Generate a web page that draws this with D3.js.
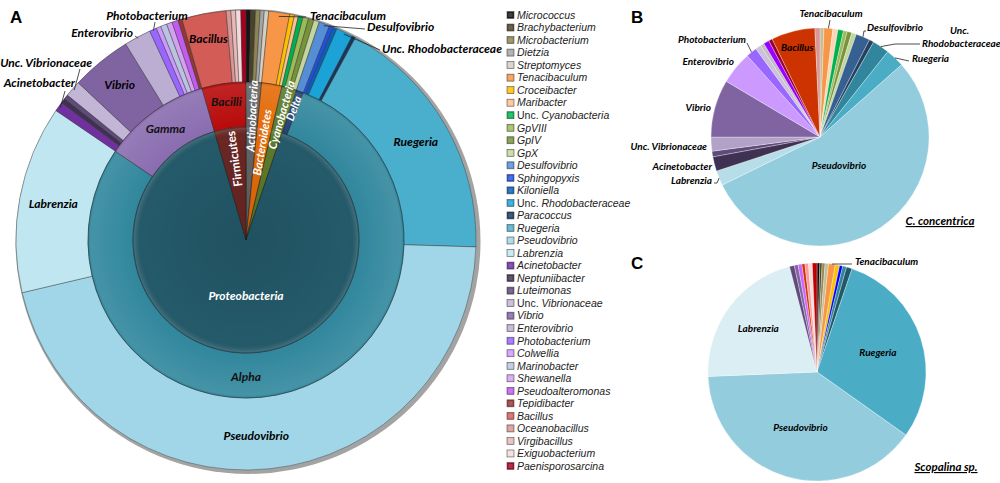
<!DOCTYPE html>
<html>
<head>
<meta charset="utf-8">
<script src="https://cdn.jsdelivr.net/npm/d3@7"></script>
<style>
body { margin: 0; background: #fff; }
svg { font-family: "Lato", "Open Sans", sans-serif; }
.lbl { font-weight: 700; font-style: italic; }
.leg { font-family: "Liberation Sans", Arial, sans-serif; font-size: 10.5px; font-style: italic; fill: #222; }
.panel { font-family: "Liberation Sans", Arial, sans-serif; font-weight: 700; font-size: 17px; }
</style>
</head>
<body>
<svg width="1000" height="483"></svg>
<script>
const width = 1000
const height = 483

// genera, legend order (also clockwise order in the pies)
const genera = ["Micrococcus", "Brachybacterium", "Microbacterium", "Dietzia", "Streptomyces",
    "Tenacibaculum", "Croceibacter", "Maribacter", "Unc. Cyanobacteria", "GpVIII", "GpIV", "GpX",
    "Desulfovibrio", "Sphingopyxis", "Kiloniella", "Unc. Rhodobacteraceae", "Paracoccus", "Ruegeria",
    "Pseudovibrio", "Labrenzia", "Acinetobacter", "Neptuniibacter", "Luteimonas", "Unc. Vibrionaceae",
    "Vibrio", "Enterovibrio", "Photobacterium", "Colwellia", "Marinobacter", "Shewanella",
    "Pseudoalteromonas", "Tepidibacter", "Bacillus", "Oceanobacillus", "Virgibacillus",
    "Exiguobacterium", "Paenisporosarcina"]

// panel A, outer ring (% of reads)
const genusA = [0.33, 0.33, 0.33, 0.28, 0.31, 1.47, 0.33, 0.28, 0.33, 0.39, 0.39, 0.39,
    0.75, 0.28, 0.28, 1.17, 0.25, 17.58, 45.83, 13.19, 0.67, 0.33, 0.33, 1.14,
    4.25, 1.89, 0.50, 0.33, 0.44, 0.39, 0.44, 0.28, 3.11, 0.33, 0.33, 0.36, 0.36]

// panel A, middle ring (class)
const classNames = ["Actinobacteria", "Bacteroidetes", "Cyanobacteria", "Delta", "Alpha", "Gamma", "Bacilli"]
const classA = [1.58, 2.08, 1.50, 0.75, 78.58, 11.00, 4.50]

// panel A, inner pie (phylum)
const phyla = ["Actinobacteria", "Bacteroidetes", "Cyanobacteria", "Proteobacteria", "Firmicutes"]
const phylumA = [1.58, 2.08, 1.50, 90.33, 4.50]

// panel B, C. concentrica
const generaB = ["Microbacterium", "Tenacibaculum", "Maribacter", "Unc. Cyanobacteria", "GpVIII", "GpIV", "GpX",
    "Desulfovibrio", "Kiloniella", "Unc. Rhodobacteraceae", "Ruegeria", "Pseudovibrio", "Labrenzia",
    "Acinetobacter", "Luteimonas", "Unc. Vibrionaceae", "Vibrio", "Enterovibrio", "Photobacterium",
    "Colwellia", "Marinobacter", "Pseudoalteromonas", "Tepidibacter", "Bacillus", "Oceanobacillus"]
const valuesB = [0.58, 1.31, 0.75, 0.83, 0.56, 0.69, 0.69, 2.08, 0.69, 2.50, 2.78, 54.25, 2.22,
    2.14, 0.83, 2.08, 8.53, 4.86, 1.61, 0.83, 0.56, 0.83, 0.56, 6.47, 0.75]

// panel C, Scopalina sp.
const generaC = ["Micrococcus", "Brachybacterium", "Microbacterium", "Dietzia", "Tenacibaculum", "Croceibacter",
    "Sphingopyxis", "Unc. Rhodobacteraceae", "Paracoccus", "Ruegeria", "Pseudovibrio", "Labrenzia",
    "Luteimonas", "Vibrio", "Shewanella", "Bacillus", "Virgibacillus", "Exiguobacterium", "Paenisporosarcina"]
const valuesC = [0.42, 0.33, 0.44, 0.50, 1.00, 0.64, 0.47, 0.58, 0.83, 29.61, 39.53, 21.58,
    0.72, 0.56, 0.56, 0.44, 0.53, 0.56, 0.69]

// colours
const colA = {
    "Micrococcus": "#151515", "Brachybacterium": "#4a4229", "Microbacterium": "#8c8454", "Dietzia": "#a5a5a5",
    "Streptomyces": "#d3cfc4", "Tenacibaculum": "#f79646", "Croceibacter": "#ffc000", "Maribacter": "#fac090",
    "Unc. Cyanobacteria": "#00b050", "GpVIII": "#9bbb59", "GpIV": "#77933c", "GpX": "#c3d69b",
    "Desulfovibrio": "#558ed5", "Sphingopyxis": "#2050e0", "Kiloniella": "#0b5fb5",
    "Unc. Rhodobacteraceae": "#1ba3d8", "Paracoccus": "#17375e", "Ruegeria": "#4aafcc",
    "Pseudovibrio": "#a0d6e7", "Labrenzia": "#c0e7f1", "Acinetobacter": "#7030a0",
    "Neptuniibacter": "#403151", "Luteimonas": "#604a7b", "Unc. Vibrionaceae": "#c3b5d6",
    "Vibrio": "#8064a2", "Enterovibrio": "#bcaed3", "Photobacterium": "#9966ff", "Colwellia": "#cc99ff",
    "Marinobacter": "#b9c4e0", "Shewanella": "#d6a0f0", "Pseudoalteromonas": "#c05cf0",
    "Tepidibacter": "#943634", "Bacillus": "#d35c57", "Oceanobacillus": "#d99694",
    "Virgibacillus": "#e6b9b8", "Exiguobacterium": "#f2dcdb", "Paenisporosarcina": "#a50021"
}
const colB = Object.assign({}, colA, {
    "Microbacterium": "#c4bd97", "Maribacter": "#fcd5b5", "Desulfovibrio": "#366092",
    "Kiloniella": "#254061", "Unc. Rhodobacteraceae": "#31859c", "Ruegeria": "#4bacc6",
    "Pseudovibrio": "#93cddd", "Labrenzia": "#b7dee8", "Acinetobacter": "#3f3151",
    "Unc. Vibrionaceae": "#b3a2c7", "Enterovibrio": "#cc99ff", "Colwellia": "#ccc0da",
    "Marinobacter": "#bfbfbf", "Pseudoalteromonas": "#9900ff", "Tepidibacter": "#990033", "Bacillus": "#cc3300"
})
const colC = Object.assign({}, colA, {
    "Micrococcus": "#0c0c0c", "Brachybacterium": "#4a452a", "Microbacterium": "#948a54", "Dietzia": "#c4bd97",
    "Sphingopyxis": "#0000ff", "Unc. Rhodobacteraceae": "#31859c", "Paracoccus": "#215968",
    "Ruegeria": "#4bacc6", "Pseudovibrio": "#93cddd", "Labrenzia": "#daeef3", "Shewanella": "#cc66ff",
    "Bacillus": "#cc3300", "Virgibacillus": "#ff9999", "Paenisporosarcina": "#c00000"
})
const colClass = { "Delta": "#23437a", "Alpha": "#31879d", "Gamma": "#8a6db0", "Bacilli": "#b80b0b" }
const colPhy = { "Actinobacteria": "#646464", "Bacteroidetes": "#e46c0a", "Cyanobacteria": "#5c7a2c",
    "Proteobacteria": "#245a6a", "Firmicutes": "#6a2724" }

const svg = d3.select("svg")
const pie = d3.pie().sort(null).value(d => d.v)
const toData = (names, vals) => names.map((n, i) => ({ name: n, v: vals[i] }))
const pol = (a, r) => [r * Math.sin(a), -r * Math.cos(a)]
const mid = d => (d.startAngle + d.endAngle) / 2
const deg = Math.PI / 180

// ---------------- Panel A ----------------
const A = { cx: 246, cy: 240, r1: 113, r2: 158, r3: 230 }
const gA = svg.append("g").attr("transform", `translate(${A.cx},${A.cy})`)

// grey rim
gA.append("circle").attr("cx", 2).attr("cy", 1.5).attr("r", A.r3 + 2.5).attr("fill", "#a3a3a3")

const genusArcs = pie(toData(genera, genusA))
gA.selectAll("path.genus").data(genusArcs).join("path")
    .attr("class", "genus")
    .attr("d", d3.arc().innerRadius(A.r2).outerRadius(A.r3))
    .attr("fill", d => colA[d.data.name])
    .attr("stroke", "#333").attr("stroke-opacity", 0.7).attr("stroke-width", 0.6)

const classArcs = pie(toData(classNames, classA)).filter(d => !phyla.includes(d.data.name))
gA.selectAll("path.cls").data(classArcs).join("path")
    .attr("class", "cls")
    .attr("d", d3.arc().innerRadius(A.r1).outerRadius(A.r2))
    .attr("fill", d => colClass[d.data.name])
    .attr("stroke", "#222").attr("stroke-opacity", 0.7).attr("stroke-width", 0.7)

const phyArcs = pie(toData(phyla, phylumA))
gA.selectAll("path.phy").data(phyArcs).join("path")
    .attr("class", "phy")
    .attr("d", d => d3.arc().innerRadius(0).outerRadius(classNames.includes(d.data.name) ? A.r2 : A.r1)(d))
    .attr("fill", d => colPhy[d.data.name])
    .attr("stroke", "#1a1a1a").attr("stroke-opacity", 0.7).attr("stroke-width", 0.7)

// soft shading on the rings
const defs = svg.append("defs")
const shade = defs.append("radialGradient").attr("id", "shade")
    .attr("gradientUnits", "userSpaceOnUse").attr("cx", 0).attr("cy", 0).attr("r", A.r3)
shade.append("stop").attr("offset", 0).attr("stop-color", "#000").attr("stop-opacity", 0.1)
shade.append("stop").attr("offset", 0.45).attr("stop-color", "#000").attr("stop-opacity", 0)
shade.append("stop").attr("offset", 0.485).attr("stop-color", "#fff").attr("stop-opacity", 0.12)
shade.append("stop").attr("offset", 0.495).attr("stop-color", "#fff").attr("stop-opacity", 0)
shade.append("stop").attr("offset", 0.675).attr("stop-color", "#fff").attr("stop-opacity", 0.1)
shade.append("stop").attr("offset", 0.685).attr("stop-color", "#fff").attr("stop-opacity", 0)
shade.append("stop").attr("offset", 1).attr("stop-color", "#fff").attr("stop-opacity", 0)
gA.append("circle").attr("r", A.r3).attr("fill", "url(#shade)").attr("pointer-events", "none")

// labels inside outer ring
const inGenus = ["Ruegeria", "Pseudovibrio", "Labrenzia", "Vibrio", "Bacillus"]
gA.selectAll("text.gl").data(genusArcs.filter(d => inGenus.includes(d.data.name))).join("text")
    .attr("class", "lbl")
    .attr("font-size", 12)
    .attr("text-anchor", "middle")
    .attr("dy", "0.35em")
    .attr("transform", d => {
        const a = d.data.name === "Pseudovibrio" ? 177 * deg : mid(d)
        const r = d.data.name === "Bacillus" ? 205 : (d.data.name === "Vibrio" ? 200 : 196)
        return `translate(${pol(a, r)})`
    })
    .text(d => d.data.name)

// class labels
gA.selectAll("text.cl").data(classArcs.filter(d => d.data.name !== "Delta")).join("text")
    .attr("class", "lbl")
    .attr("font-size", 12)
    .attr("text-anchor", "middle")
    .attr("dy", "0.35em")
    .attr("fill", "#111")
    .attr("transform", d => {
        const a = d.data.name === "Alpha" ? 180 * deg : mid(d)
        const r = d.data.name === "Bacilli" ? 140 : 137
        return `translate(${pol(a, r)})`
    })
    .text(d => d.data.name)

// Proteobacteria
gA.append("text").attr("class", "lbl").attr("font-size", 12).attr("fill", "#fff")
    .attr("text-anchor", "middle").attr("dy", "0.35em")
    .attr("transform", `translate(${pol(180 * deg, 56)})`)
    .text("Proteobacteria")

// radial labels in the narrow wedges
const radial = [
    { name: "Firmicutes", arcs: phyArcs, r: 82, size: 12 },
    { name: "Actinobacteria", arcs: phyArcs, r: 124, size: 11.5 },
    { name: "Bacteroidetes", arcs: phyArcs, r: 99, size: 11.5 },
    { name: "Cyanobacteria", arcs: phyArcs, r: 130, size: 11.5 },
    { name: "Delta", arcs: pie(toData(classNames, classA)), r: 140, size: 11 }
]
radial.forEach(o => {
    const d = o.arcs.find(a => a.data.name === o.name)
    const a = mid(d)
    gA.append("text")
        .attr("font-weight", 700).attr("font-style", o.name === "Firmicutes" ? "normal" : "italic")
        .attr("font-size", o.size).attr("fill", "#fff")
        .attr("text-anchor", "middle").attr("dy", "0.35em")
        .attr("transform", `translate(${pol(a, o.r)}) rotate(${a / deg - 90})`)
        .text(o.name)
})

// outside labels with leaders (text positions in page pixels)
const outA = [
    { name: "Photobacterium", x: 147, y: 20, anchor: "middle", to: [155, 22], r: 229 },
    { name: "Enterovibrio", x: 133, y: 37, anchor: "end", to: [135, 36], r: 229 },
    { name: "Unc. Vibrionaceae", x: 92, y: 67, anchor: "end", to: [80, 69], r: 228 },
    { name: "Acinetobacter", x: 75, y: 87, anchor: "end", to: [65, 91], r: 228 },
    { name: "Tenacibaculum", x: 310, y: 20, anchor: "start", to: [306, 17], r: 226 },
    { name: "Desulfovibrio", x: 367, y: 31, anchor: "start", to: [365, 29], r: 228 },
    { name: "Unc. Rhodobacteraceae", x: 382, y: 53, anchor: "start", to: [380, 50], r: 228 }
]
const gOut = svg.append("g")
outA.forEach(o => {
    const d = genusArcs.find(a => a.data.name === o.name)
    const p = pol(mid(d), o.r)
    gOut.append("line")
        .attr("x1", A.cx + p[0]).attr("y1", A.cy + p[1])
        .attr("x2", o.to[0]).attr("y2", o.to[1])
        .attr("stroke", "#222").attr("stroke-width", 0.8)
    gOut.append("text").attr("class", "lbl").attr("font-size", 12)
        .attr("x", o.x).attr("y", o.y).attr("text-anchor", o.anchor)
        .text(o.name)
})

svg.append("text").attr("class", "panel").attr("x", 10).attr("y", 23).text("A")

// ---------------- Legend ----------------
const yLeg = d3.scalePoint().domain(genera).range([15, 466])
const leg = svg.append("g").selectAll("g").data(genera).join("g")
    .attr("transform", d => `translate(507,${yLeg(d)})`)
leg.append("rect")
    .attr("x", 0).attr("y", -3.5).attr("width", 7).attr("height", 7)
    .attr("fill", d => colA[d]).attr("stroke", "#555").attr("stroke-width", 0.6)
leg.append("rect")
    .attr("x", 1.3).attr("y", -2.2).attr("width", 4.4).attr("height", 4.4)
    .attr("fill", "#fff").attr("fill-opacity", 0.18)
const legText = leg.append("text").attr("class", "leg").attr("x", 10).attr("dy", "0.36em")
legText.each(function (d) {
    const t = d3.select(this)
    if (d.startsWith("Unc. ")) {
        t.append("tspan").attr("font-style", "normal").text("Unc. ")
        t.append("tspan").text(d.slice(5))
    } else {
        t.text(d)
    }
})

// ---------------- Pies B and C ----------------
function drawPie(cx, cy, r, names, vals, col) {
    const g = svg.append("g").attr("transform", `translate(${cx},${cy})`)
    const arcs = pie(toData(names, vals))
    g.selectAll("path").data(arcs).join("path")
        .attr("d", d3.arc().innerRadius(0).outerRadius(r))
        .attr("fill", d => col[d.data.name])
        .attr("stroke", "#fff").attr("stroke-width", 0.3)
    return arcs
}

function leader(cx, cy, arcs, name, r, pts) {
    const d = arcs.find(a => a.data.name === name)
    const p = pol(mid(d), r)
    const line = [[cx + p[0], cy + p[1]]].concat(pts)
    svg.append("path").attr("d", d3.line()(line))
        .attr("fill", "none").attr("stroke", "#222").attr("stroke-width", 0.8)
}

function label(text, x, y, anchor, size) {
    return svg.append("text").attr("class", "lbl").attr("font-size", size || 10)
        .attr("x", x).attr("y", y).attr("text-anchor", anchor).text(text)
}

function centroidLabel(cx, cy, arcs, name, r, size) {
    const d = arcs.find(a => a.data.name === name)
    const p = pol(mid(d), r)
    svg.append("text").attr("class", "lbl").attr("font-size", size || 10)
        .attr("x", cx + p[0]).attr("y", cy + p[1]).attr("dy", "0.35em")
        .attr("text-anchor", "middle").text(name)
}

const B = { cx: 820, cy: 137, r: 109 }
const arcsB = drawPie(B.cx, B.cy, B.r, generaB, valuesB, colB)
centroidLabel(B.cx, B.cy, arcsB, "Bacillus", 92)
centroidLabel(B.cx, B.cy, arcsB, "Pseudovibrio", 34)

leader(B.cx, B.cy, arcsB, "Tenacibaculum", B.r, [[830, 20]])
label("Tenacibaculum", 831, 17, "middle")
leader(B.cx, B.cy, arcsB, "Desulfovibrio", B.r, [[864, 31], [866, 31]])
label("Desulfovibrio", 867, 31, "start")
leader(B.cx, B.cy, arcsB, "Unc. Rhodobacteraceae", B.r, [[895, 44], [920, 44]])
label("Unc.", 950, 34, "start")
label("Rhodobacteraceae", 922, 47, "start")
leader(B.cx, B.cy, arcsB, "Ruegeria", B.r, [[909, 61]])
label("Ruegeria", 912, 62, "start")
leader(B.cx, B.cy, arcsB, "Photobacterium", B.r, [[747, 43]])
label("Photobacterium", 746, 43, "end")
label("Enterovibrio", 734, 65, "end")
label("Vibrio", 711, 111, "end")
label("Unc. Vibrionaceae", 707, 150, "end")
label("Acinetobacter", 712, 170, "end")
leader(B.cx, B.cy, arcsB, "Labrenzia", B.r, [[717, 183], [714, 183]])
label("Labrenzia", 712, 184, "end")
label("C. concentrica", 940, 225, "middle", 11.5).attr("text-decoration", "underline")

svg.append("text").attr("class", "panel").attr("x", 631).attr("y", 23).text("B")

const C = { cx: 817, cy: 372, r: 109 }
const arcsC = drawPie(C.cx, C.cy, C.r, generaC, valuesC, colC)
centroidLabel(C.cx, C.cy, arcsC, "Labrenzia", 73)
centroidLabel(C.cx, C.cy, arcsC, "Ruegeria", 64)
centroidLabel(C.cx, C.cy, arcsC, "Pseudovibrio", 58)
leader(C.cx, C.cy, arcsC, "Tenacibaculum", C.r, [[852, 264]])
label("Tenacibaculum", 855, 265, "start")
label("Scopalina sp.", 946, 471, "middle", 11.5).attr("text-decoration", "underline")

svg.append("text").attr("class", "panel").attr("x", 631).attr("y", 269).text("C")
</script>
</body>
</html>
